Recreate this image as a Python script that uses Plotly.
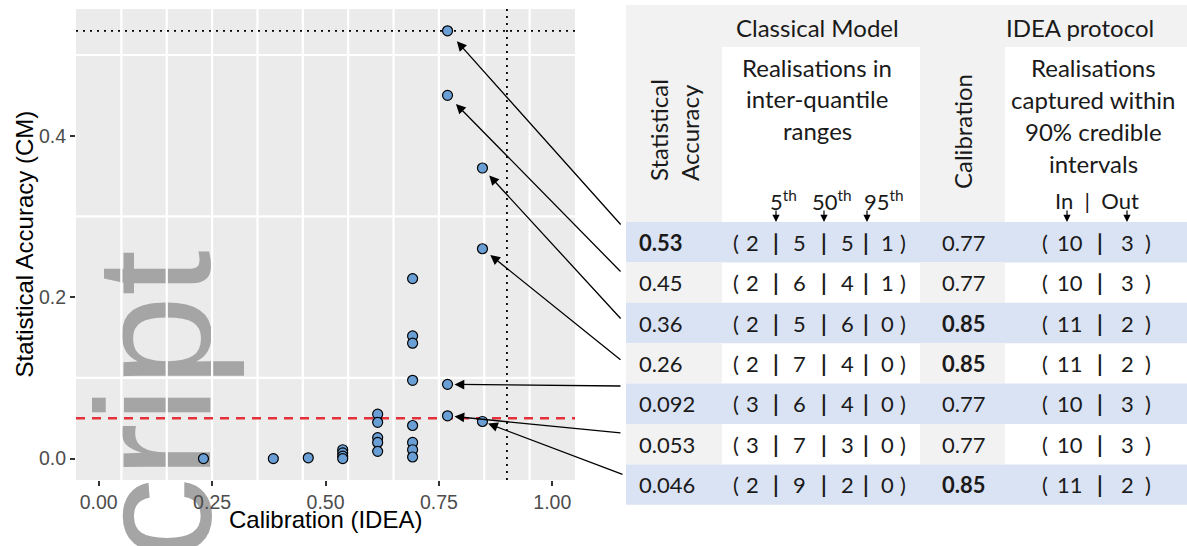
import plotly.graph_objects as go

W, H = 1187, 546

# ---------------- data ----------------
pts_calibration = [0.231, 0.385, 0.462,
                   0.538, 0.538, 0.538, 0.538,
                   0.615, 0.615, 0.615, 0.615, 0.615,
                   0.692, 0.692, 0.692, 0.692, 0.692, 0.692, 0.692, 0.692,
                   0.769, 0.769, 0.769, 0.769,
                   0.846, 0.846, 0.846]
pts_accuracy = [0.0, 0.0, 0.001,
                0.011, 0.007, 0.003, 0.0,
                0.055, 0.045, 0.026, 0.020, 0.009,
                0.223, 0.152, 0.143, 0.097, 0.041, 0.020, 0.011, 0.002,
                0.53, 0.45, 0.092, 0.053,
                0.36, 0.26, 0.046]

x_ticks = [0.0, 0.25, 0.5, 0.75, 1.0]
x_ticklabels = ["0.00", "0.25", "0.50", "0.75", "1.00"]
y_ticks = [0.0, 0.2, 0.4]
y_ticklabels = ["0.0", "0.2", "0.4"]
x_grid = [0.05, 0.15, 0.25, 0.35, 0.45, 0.55, 0.65, 0.75, 0.85, 0.95]
y_grid = [0.1, 0.3, 0.5]

SA_THRESHOLD = 0.05
CAL_THRESHOLD = 0.9
SA_MAX = 0.53

# table
sa_values = [0.53, 0.45, 0.36, 0.26, 0.092, 0.053, 0.046]
sa_labels = ["0.53", "0.45", "0.36", "0.26", "0.092", "0.053", "0.046"]
sa_bold = [True, False, False, False, False, False, False]
cm_counts = [[2, 5, 5, 1], [2, 6, 4, 1], [2, 5, 6, 0], [2, 7, 4, 0],
             [3, 6, 4, 0], [3, 7, 3, 0], [2, 9, 2, 0]]
cal_values = [0.769, 0.769, 0.846, 0.846, 0.769, 0.769, 0.846]
cal_labels = ["0.77", "0.77", "0.85", "0.85", "0.77", "0.77", "0.85"]
cal_bold = [False, False, True, True, False, False, True]
idea_in = [10, 10, 11, 11, 10, 10, 11]
idea_out = [3, 3, 2, 2, 3, 3, 2]

# ---------------- layout constants (pixels) ----------------
PX0, PX1 = 76, 575      # panel left/right
PY0, PY1 = 9, 480       # panel top/bottom
X_RANGE = [-0.05, 1.05]
Y_RANGE = [-0.0265, 0.557]

COLS = [626, 722, 920, 1005, 1187]
HEAD_TOP = 5
SUB_TOP = 47
BODY_TOP = 222
ROW_H = 40.4
CM_TOKEN_X = [736, 752, 776, 799, 824, 847, 866, 887, 903]
IDEA_TOKEN_X = [1045, 1070, 1100, 1127, 1148]
ARROW_TAILS = [(622, 226), (622, 273), (622, 320), (622, 361), (622, 386), (622, 433), (624, 475)]
ARROW_STANDOFF = [14, 12, 10, 10, 7, 7, 6]
WATERMARK_BOX = (87, 355, 187, 455)

FONT_T = "Lato"
FS = 22
FS_HEAD = 24
TXT = "#1a1a1a"
GREY = "#f2f2f2"
BLUE = "#dae3f3"


def px(x):
    return x / W


def py(y):
    return 1 - y / H


def dom_x(p):
    return (p - PX0) / (PX1 - PX0)


def dom_y(p):
    return (PY1 - p) / (PY1 - PY0)


def data_x(p):
    return X_RANGE[0] + dom_x(p) * (X_RANGE[1] - X_RANGE[0])


def data_y(p):
    return Y_RANGE[0] + dom_y(p) * (Y_RANGE[1] - Y_RANGE[0])


fig = go.Figure()

# reference lines
fig.add_trace(go.Scatter(x=X_RANGE, y=[SA_MAX, SA_MAX], mode="lines",
                         line=dict(color="black", width=1.8, dash="2px,5px"), hoverinfo="skip"))
fig.add_trace(go.Scatter(x=[CAL_THRESHOLD, CAL_THRESHOLD], y=Y_RANGE, mode="lines",
                         line=dict(color="black", width=1.8, dash="2px,5px"), hoverinfo="skip"))
fig.add_trace(go.Scatter(x=X_RANGE, y=[SA_THRESHOLD, SA_THRESHOLD], mode="lines",
                         line=dict(color="#e3303a", width=2.5, dash="9px,7px"), hoverinfo="skip"))
# points
fig.add_trace(go.Scatter(x=pts_calibration, y=pts_accuracy, mode="markers",
                         marker=dict(size=10, color="#6a9fd6", line=dict(color="black", width=1.2))))

shapes = []
annotations = []


def rect(x0, y0, x1, y1, color):
    shapes.append(dict(type="rect", xref="paper", yref="paper", x0=px(x0), x1=px(x1),
                       y0=py(y1), y1=py(y0), line=dict(width=0), fillcolor=color, layer="below"))


def text(x, y, s, xanchor="center", size=FS, angle=0, align="center", bold=False):
    if bold:
        s = "<b>" + s + "</b>"
    annotations.append(dict(xref="paper", yref="paper", x=px(x), y=py(y), text=s, showarrow=False,
                            xanchor=xanchor, yanchor="middle", textangle=angle, align=align,
                            font=dict(family=FONT_T, size=size, color=TXT)))


# panel gridlines (drawn as shapes so the watermark can sit above them)
for gx in x_grid:
    shapes.append(dict(type="line", xref="x", yref="y", x0=gx, x1=gx, y0=Y_RANGE[0], y1=Y_RANGE[1],
                       line=dict(color="white", width=2.2), layer="below"))
for gy in y_grid:
    shapes.append(dict(type="line", xref="x", yref="y", x0=X_RANGE[0], x1=X_RANGE[1], y0=gy, y1=gy,
                       line=dict(color="white", width=2.2), layer="below"))

# watermark
wx0, wy0, wx1, wy1 = WATERMARK_BOX
shapes.append(dict(type="rect", xref="x domain", yref="y domain",
                   x0=dom_x(wx0), x1=dom_x(wx1), y0=dom_y(wy1), y1=dom_y(wy0),
                   line=dict(width=0), fillcolor="rgba(0,0,0,0)", layer="below",
                   label=dict(text="cript", textangle=-90, textposition="middle center",
                              font=dict(family="Liberation Sans", size=164, color="#a5a5a5"))))

# table backgrounds
rect(COLS[0], HEAD_TOP, COLS[-1], BODY_TOP, GREY)
rect(COLS[1], SUB_TOP, COLS[2], BODY_TOP, "white")
rect(COLS[3], SUB_TOP, COLS[4], BODY_TOP, "white")
for i in range(len(sa_labels)):
    y0 = BODY_TOP + i * ROW_H
    if i % 2 == 0:
        rect(COLS[0], y0, COLS[-1], y0 + ROW_H, BLUE)
    else:
        rect(COLS[0], y0, COLS[1], y0 + ROW_H, GREY)
        rect(COLS[2], y0, COLS[3], y0 + ROW_H, GREY)

# header text
text(817, 27, "Classical Model", size=FS_HEAD)
text(1080, 27, "IDEA protocol", size=FS_HEAD)
for k, s in enumerate(["Realisations in", "inter-quantile", "ranges"]):
    text(817, 67 + 31.5 * k, s, size=FS_HEAD)
for k, s in enumerate(["Realisations", "captured within", "90% credible", "intervals"]):
    text(1093, 67 + 32 * k, s, size=FS_HEAD)
text(674, 130, "Statistical<br>Accuracy", angle=-90, align="left", size=FS_HEAD)
text(962, 132, "Calibration", angle=-90, size=FS_HEAD)
text(783, 200, "5<sup>th</sup>")
text(832, 200, "50<sup>th</sup>")
text(884, 200, "95<sup>th</sup>")
text(1097, 200, "In  |  Out")
for xa in [776, 824, 867, 1067, 1127]:
    annotations.append(dict(xref="paper", yref="paper", x=px(xa), y=py(BODY_TOP), ax=0, ay=-13,
                            text="", showarrow=True, arrowhead=2, arrowsize=1.2, arrowwidth=1.2,
                            arrowcolor="black"))

# body text
for i in range(len(sa_labels)):
    yc = BODY_TOP + (i + 0.5) * ROW_H
    text(637, yc, sa_labels[i], xanchor="left", bold=sa_bold[i])
    toks = ["("] + sum([[str(c), "|"] for c in cm_counts[i]], [])[:-1] + [")"]
    for xt, t in zip(CM_TOKEN_X, toks):
        text(xt, yc, t, bold=(t == "|"))
    text(940, yc, cal_labels[i], xanchor="left", bold=cal_bold[i])
    for xt, t in zip(IDEA_TOKEN_X, ["(", str(idea_in[i]), "|", str(idea_out[i]), ")"]):
        text(xt, yc, t, bold=(t == "|"))

# arrows from table rows to points
for i in range(len(sa_values)):
    tx, ty = ARROW_TAILS[i]
    annotations.append(dict(xref="x", yref="y", x=cal_values[i], y=sa_values[i],
                            axref="x", ayref="y", ax=data_x(tx), ay=data_y(ty),
                            text="", showarrow=True, arrowhead=2, arrowsize=1.5, arrowwidth=1.3,
                            arrowcolor="black", standoff=ARROW_STANDOFF[i]))

# axis titles
annotations.append(dict(xref="paper", yref="paper", x=px((PX0 + PX1) / 2), y=py(519),
                        text="Calibration (IDEA)", showarrow=False, xanchor="center", yanchor="middle",
                        font=dict(family="Liberation Sans", size=24, color="black")))
annotations.append(dict(xref="paper", yref="paper", x=px(24), y=py((PY0 + PY1) / 2),
                        text="Statistical Accuracy (CM)", showarrow=False, xanchor="center",
                        yanchor="middle", textangle=-90,
                        font=dict(family="Liberation Sans", size=24, color="black")))

fig.update_layout(
    width=W, height=H, margin=dict(l=0, r=0, t=0, b=0),
    paper_bgcolor="white", plot_bgcolor="#ebebeb", showlegend=False,
    shapes=shapes, annotations=annotations,
    xaxis=dict(domain=[px(PX0), px(PX1)], range=X_RANGE, showgrid=False, zeroline=False,
               tickvals=x_ticks, ticktext=x_ticklabels, ticks="outside", ticklen=5, tickwidth=1.5,
               tickcolor="#333333", tickfont=dict(family="Liberation Sans", size=19.5, color="#4d4d4d")),
    yaxis=dict(domain=[py(PY1), py(PY0)], range=Y_RANGE, showgrid=False, zeroline=False,
               tickvals=y_ticks, ticktext=y_ticklabels, ticks="outside", ticklen=5, tickwidth=1.5,
               tickcolor="#333333", tickfont=dict(family="Liberation Sans", size=19.5, color="#4d4d4d")),
)

fig.write_html("out.html", config={"displayModeBar": False},
               post_script="document.body.style.margin='0px';")
